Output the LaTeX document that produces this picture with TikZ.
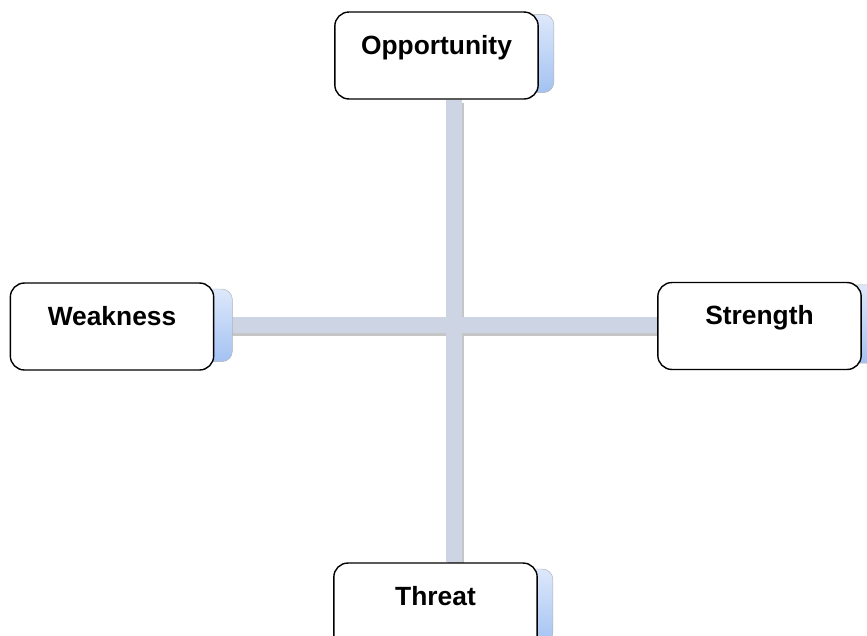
\documentclass[tikz,border=0pt]{standalone}
\usepackage{fontspec}
\setmainfont{Liberation Sans}
\usetikzlibrary{backgrounds}

\definecolor{barblue}{HTML}{CDD5E5}
\definecolor{tabtop}{HTML}{DDE8FB}
\definecolor{tabbot}{HTML}{A3C2F2}

\tikzset{
	swot/.style={draw=black, line width=1.2pt, fill=white, rounded corners=12pt,
		minimum width=6.1cm, inner sep=0pt, text height=36pt, text depth=38.2pt,
		font=\fontsize{22.5}{26}\selectfont\bfseries},
	tab/.style={draw=gray!60, rounded corners=9pt, top color=tabtop, bottom color=tabbot},
	bar/.style={line width=0.48cm, barblue},
	barshadow/.style={line width=0.48cm, gray!45}
}

\begin{document}
\begin{tikzpicture}[x=0.03cm, y=-0.03cm]
		
		\clip (0,0) rectangle (867,635);
		
		% Boxes
		\node[swot] (opp) at (436.5,55.5) {Opportunity};
		\node[swot] (weak) at (112,326.5) {Weakness};
		\node[swot] (str) at (759.5,326) {Strength};
		\node[swot] (thr) at (435.5,606.5) {Threat};
		
		\coordinate (mid) at (454,325);
		
		\begin{scope}[on background layer]
			% Cross bars with shadow
			\draw[barshadow] ([xshift=0.05cm,yshift=-0.09cm]opp.south -| mid) -- ([xshift=0.05cm,yshift=-0.09cm]thr.north -| mid);
			\draw[barshadow] ([xshift=0.05cm,yshift=-0.09cm]weak.east |- mid) -- ([xshift=0.05cm,yshift=-0.09cm]str.west |- mid);
			\draw[bar] (opp.south -| mid) -- (thr.north -| mid);
			\draw[bar] (weak.east |- mid) -- (str.west |- mid);
			
			% Blue tabs behind the boxes
			\path[tab] ([xshift=-0.6cm,yshift=-0.09cm]opp.north east) rectangle ([xshift=0.45cm,yshift=0.21cm]opp.south east);
			\path[tab] ([xshift=-0.6cm,yshift=-0.2cm]weak.north east) rectangle ([xshift=0.54cm,yshift=0.27cm]weak.south east);
			\path[tab] ([xshift=-0.6cm,yshift=-0.09cm]str.north east) rectangle ([xshift=0.45cm,yshift=0.21cm]str.south east);
			\path[tab] ([xshift=-0.6cm,yshift=-0.2cm]thr.north east) rectangle ([xshift=0.45cm,yshift=0.21cm]thr.south east);
		\end{scope}
		
	\end{tikzpicture}
\end{document}
